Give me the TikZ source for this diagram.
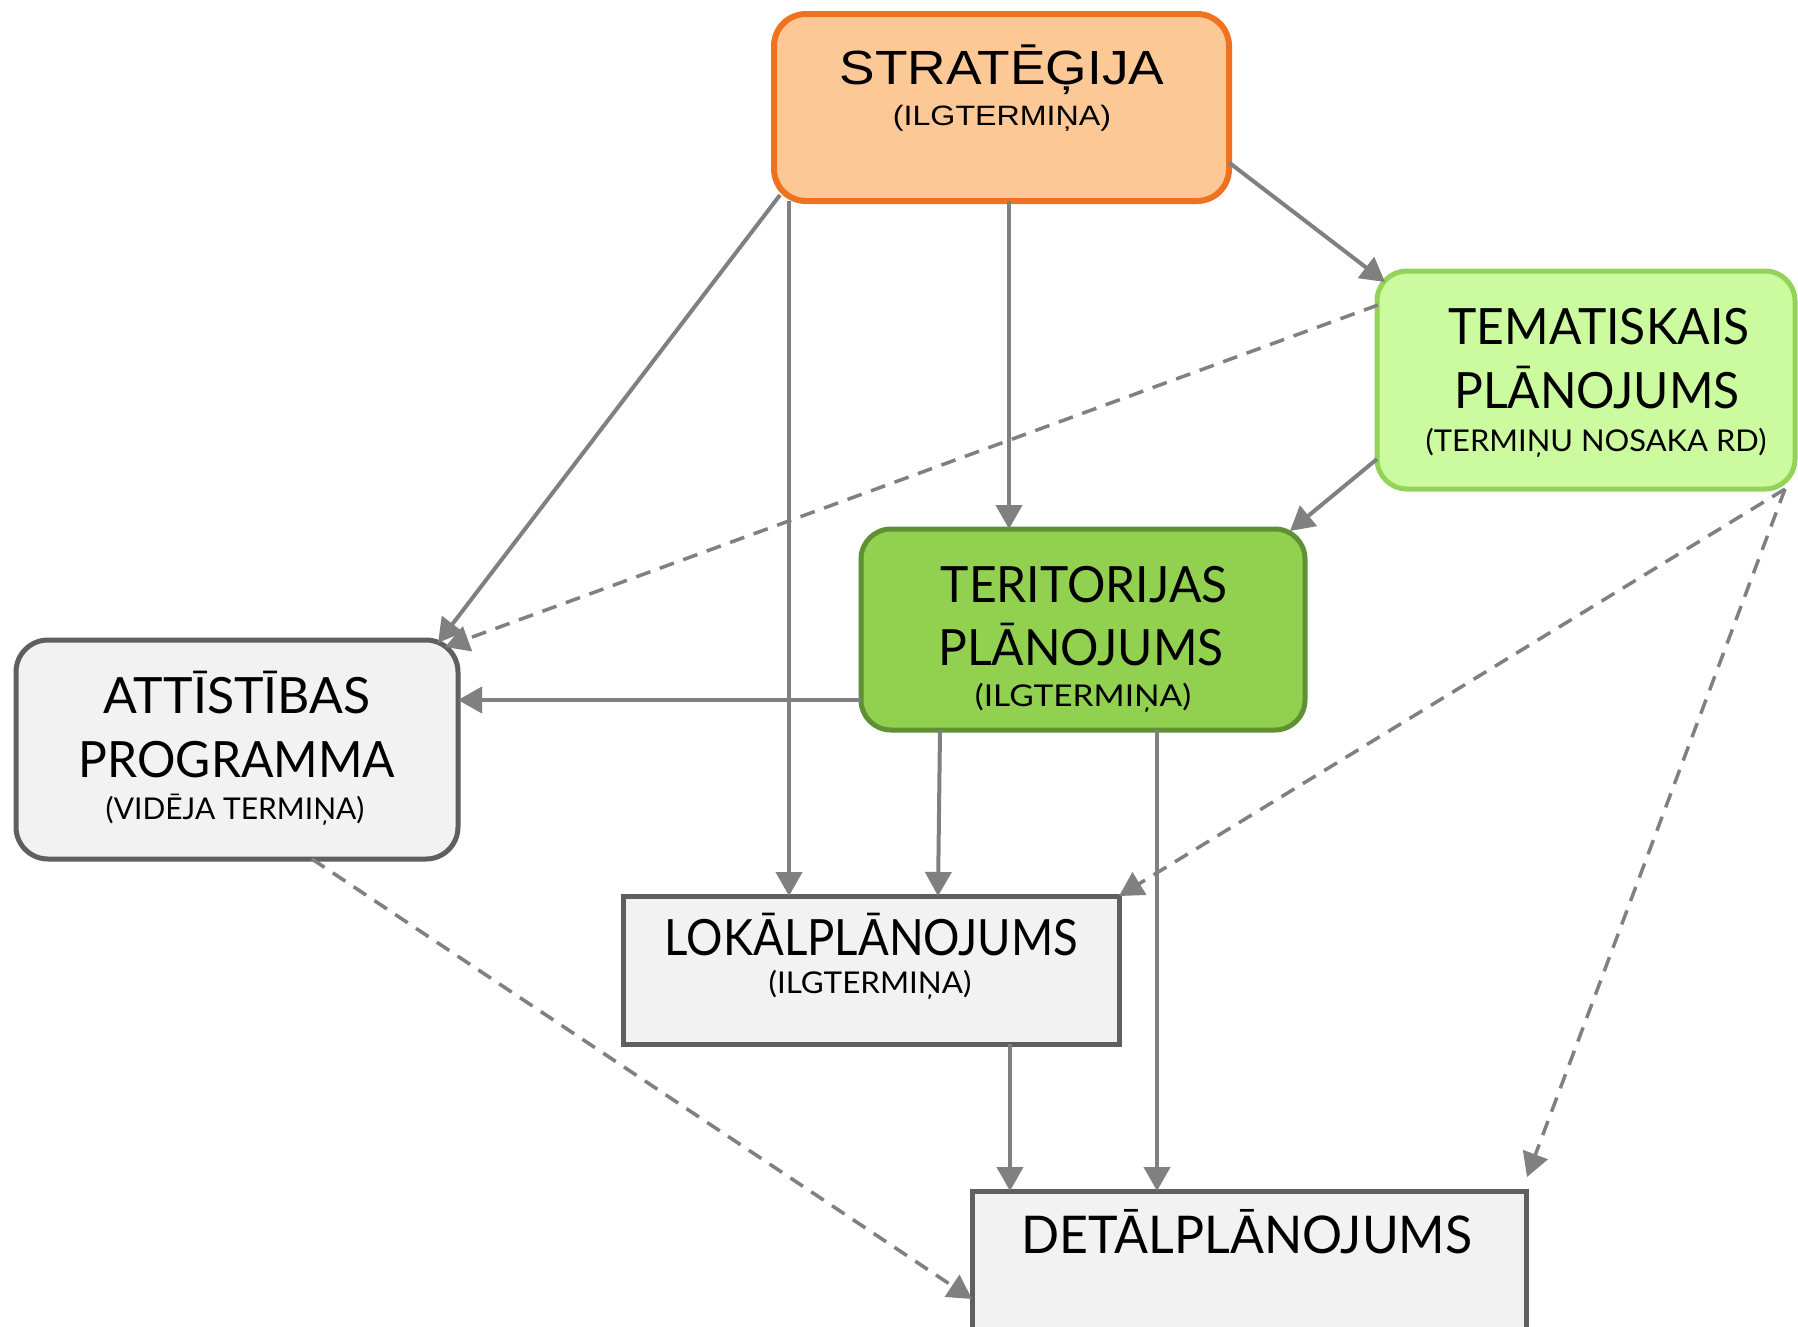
\documentclass[tikz,border=0pt]{standalone}
\usepackage{fontspec}
\usetikzlibrary{arrows.meta,calc}
\newfontfamily\gill{Lato}
\newfontfamily\arialf{Liberation Sans}
\definecolor{stratfill}{HTML}{FCC896}
\definecolor{stratdraw}{HTML}{EE7220}
\definecolor{tematfill}{HTML}{CCFA9E}
\definecolor{tematdraw}{HTML}{93D35A}
\definecolor{teritfill}{HTML}{92D050}
\definecolor{teritdraw}{HTML}{5F9134}
\definecolor{boxfill}{HTML}{F2F2F2}
\definecolor{boxdraw}{HTML}{5F5F5F}
\definecolor{arrowgray}{HTML}{808080}
\begin{document}
\begin{tikzpicture}[x=1pt,y=-1pt,
  box/.style={draw, inner sep=0pt, outer sep=0pt},
  rbox/.style={box, rounded corners=32pt},
  txt/.style={anchor=base, inner sep=0pt, outer sep=0pt, text=black},
  big/.style={txt, font={\gill\addfontfeatures{FakeStretch=#1}\fontsize{50}{54}\selectfont}},
  big/.default=0.96,
  small/.style={txt, font={\gill\addfontfeatures{FakeStretch=#1}\fontsize{30}{34}\selectfont}},
  small/.default=1.05,
  conn/.style={draw=arrowgray, line width=4pt, -{Triangle[length=24pt,width=26pt]}},
  dconn/.style={conn, line width=3.5pt, dash pattern=on 15pt off 10pt}
]
\useasboundingbox (0,0) rectangle (1798,1326);
\fill[white] (0,0) rectangle (1798,1326);
\begin{scope}
\clip (0,0) rectangle (1798,1326);
% boxes
\node[rbox, fill=stratfill, draw=stratdraw, line width=6pt, minimum width=455pt, minimum height=187pt] (strat) at (1001.5,107.5) {};
\node[rbox, rounded corners=30pt, fill=tematfill, draw=tematdraw, line width=5pt, minimum width=418pt, minimum height=218pt] (temat) at (1586,380) {};
\node[rbox, rounded corners=30pt, fill=teritfill, draw=teritdraw, line width=5pt, minimum width=444pt, minimum height=201pt] (terit) at (1083,629.5) {};
\node[rbox, fill=boxfill, draw=boxdraw, line width=5pt, minimum width=442pt, minimum height=219pt] (attist) at (237,749.5) {};
\node[box, fill=boxfill, draw=boxdraw, line width=5pt, minimum width=496pt, minimum height=148pt] (lokal) at (871,970) {};
\node[box, fill=boxfill, draw=boxdraw, line width=5pt, minimum width=554pt, minimum height=139pt] (detal) at (1249,1260.5) {};
\end{scope}
% texts
\node[txt, font={\arialf\addfontfeatures{FakeStretch=1.11}\fontsize{48}{52}\selectfont}] (t1a) at (1002,84) {STRATĒĢIJA};
\node[txt, font={\arialf\addfontfeatures{FakeStretch=1.15}\fontsize{28}{32}\selectfont}] (t1b) at (1002,125) {(ILGTERMIŅA)};
\node[big] (t2a) at (1599,344) {TEMATISKAIS};
\node[big] (t2b) at (1597,408) {PLĀNOJUMS};
\node[small=1.03] (t2c) at (1596,451) {(TERMIŅU NOSAKA RD)};
\node[big] (t3a) at (1084,602) {TERITORIJAS};
\node[big] (t3b) at (1081,665) {PLĀNOJUMS};
\node[small=1.115] (t3c) at (1083,706) {(ILGTERMIŅA)};
\node[big=1.0] (t4a) at (237,713) {ATTĪSTĪBAS};
\node[big] (t4b) at (237,777) {PROGRAMMA};
\node[small=1.0] (t4c) at (235,819) {(VIDĒJA TERMIŅA)};
\node[big=0.91] (t5a) at (871.5,955) {LOKĀLPLĀNOJUMS};
\node[small=1.045] (t5b) at (870,993) {(ILGTERMIŅA)};
\node[txt, font={\gill\addfontfeatures{FakeStretch=0.963}\fontsize{52}{56}\selectfont}] (t6a) at (1247,1253) {DETĀLPLĀNOJUMS};
% connectors
\draw[conn] ($(strat.east)+(0,55)$) -- ($(temat.north west)+(8,11)$);
\draw[conn] ($(strat.south west)+(6,-6)$) -- ($(attist.north east)+(-20,3)$);
\draw[conn] ($(strat.south west)+(15,0)$) -- ($(lokal.north west)+(166,0)$);
\draw[conn] ($(strat.south)+(7.5,0)$) -- ($(terit.north)+(-74,0)$);
\draw[conn] ($(temat.south west)+(0,-30)$) -- ($(terit.north east)+(-15,2)$);
\draw[dconn] ($(temat.north west)+(1,34)$) -- ($(attist.north east)+(-13,7)$);
\draw[conn] ($(terit.west)+(0,70.5)$) -- ($(attist.east)+(0,-49.5)$);
\draw[conn] ($(terit.south west)+(79,0)$) -- ($(lokal.north west)+(315,0)$);
\draw[conn] ($(terit.south)+(74,0)$) -- ($(detal.north west)+(185,0)$);
\draw[dconn] ($(temat.south east)+(-10,0)$) -- (lokal.north east);
\draw[dconn] ($(temat.south east)+(-10,0)$) -- ($(detal.north east)+(1,-14)$);
\draw[dconn] ($(attist.south west)+(296,0)$) -- ($(detal.north west)+(0,108)$);
\draw[conn] ($(lokal.south west)+(387,0)$) -- ($(detal.north west)+(38,0)$);
\end{tikzpicture}
\end{document}
